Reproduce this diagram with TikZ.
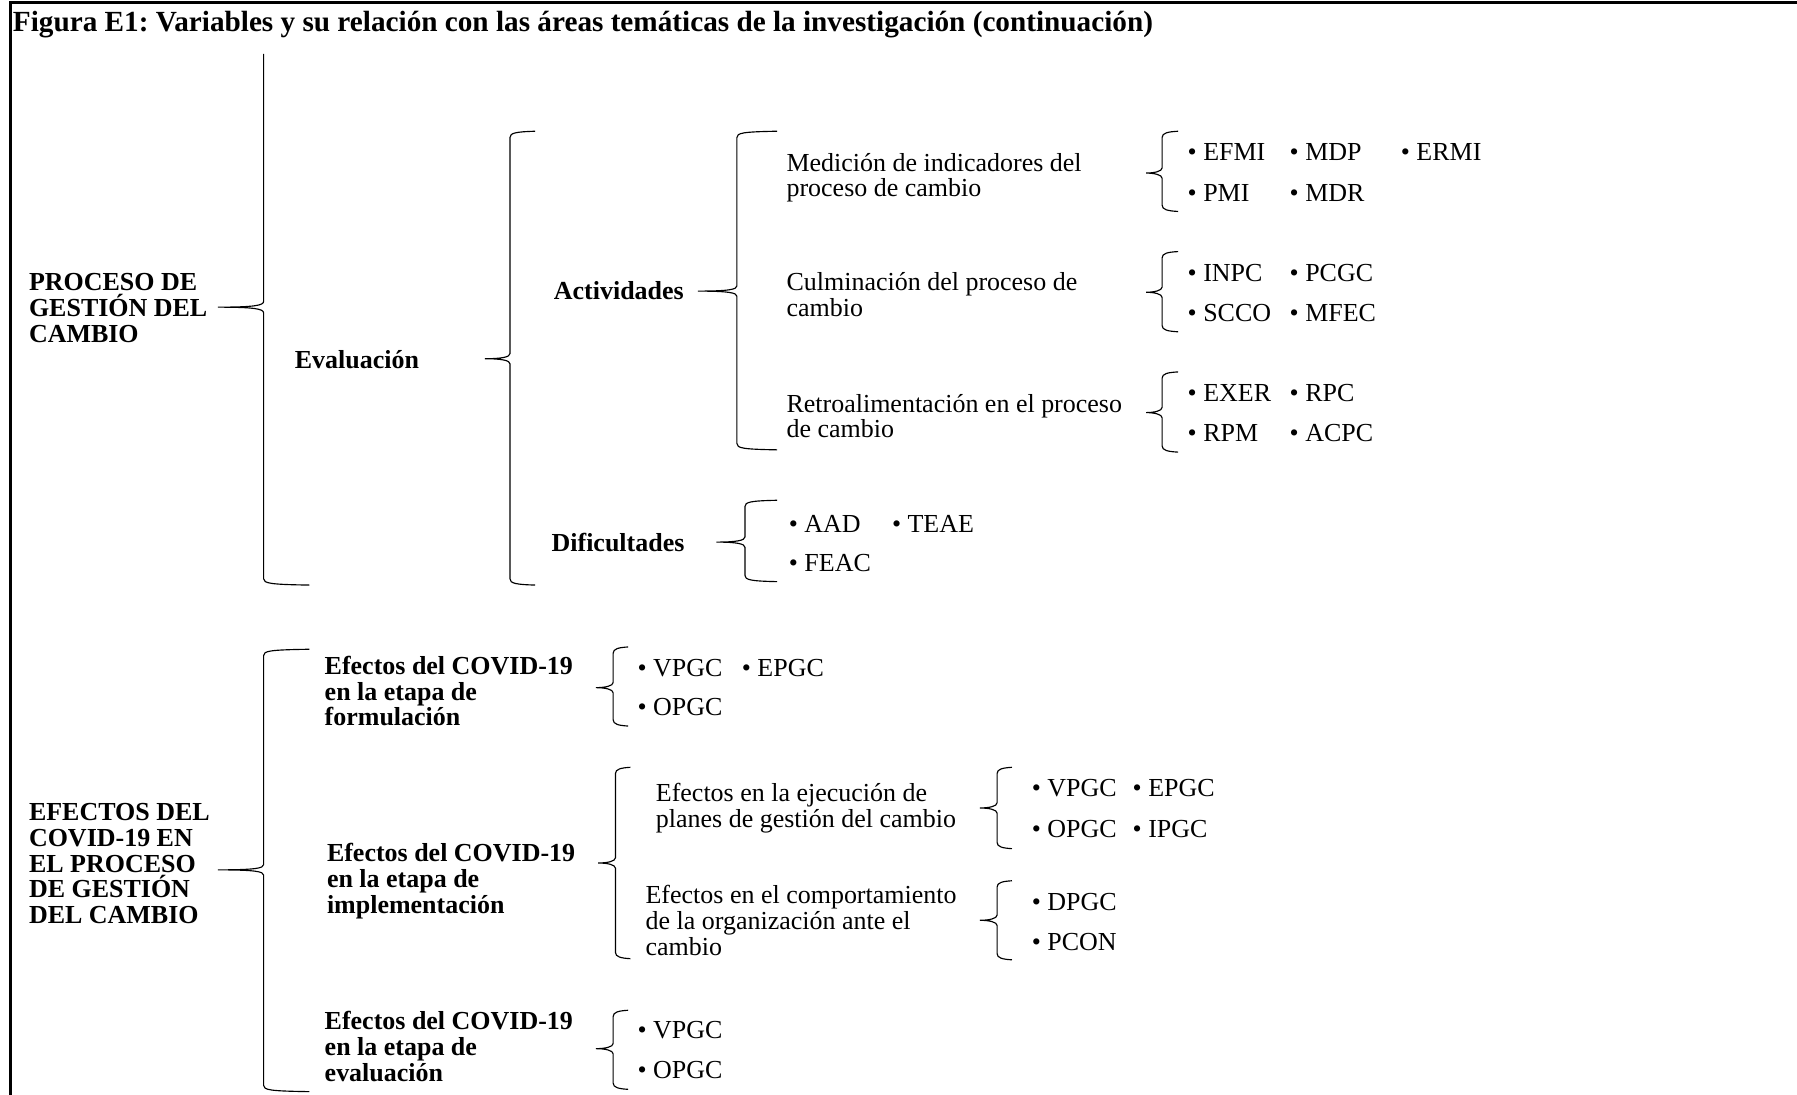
\documentclass[tikz,border=0pt]{standalone}
\usepackage{fontspec}
\setmainfont{Liberation Serif}
\frenchspacing
\usetikzlibrary{positioning}

\begin{document}
\begin{tikzpicture}[
      x=0.6pt, y=-0.6pt,
      title/.style={anchor=base west, inner sep=0pt, font=\fontsize{15.3}{16}\selectfont\bfseries},
      head/.style={anchor=west, inner sep=0pt, align=left, font=\fontsize{13.6}{13.5}\selectfont\bfseries},
      txt/.style={anchor=west, inner sep=0pt, align=left, font=\fontsize{13.6}{13.5}\selectfont},
      itm/.style={anchor=west, inner sep=0pt, font=\fontsize{13.6}{13.5}\selectfont},
      brace/.style={line width=0.6pt},
      frame/.style={line width=1.5pt}
   ]
      \useasboundingbox (0,0) rectangle (1568,955);
      \draw[frame] (9.5,955) -- (9.5,2.5) -- (1568,2.5);
      \node[title] (T) at (11,27.5) {Figura E1: Variables y su relación con las áreas temáticas de la investigación (continuación)};

      % first block
      \node[head] (P1) at (25,269) {PROCESO DE\\GESTIÓN DEL\\CAMBIO};
      \node[head] (EV) at (257,314) {Evaluación};
      \node[head] (AC) at (483,254) {Actividades};
      \node[head] (DI) at (481,473) {Dificultades};
      \node[txt] (M1) at (686,155) {Medición de indicadores del\\proceso de cambio};
      \node[txt] (M2) at (686,257) {Culminación del proceso de\\cambio};
      \node[txt] (M3) at (686,363) {Retroalimentación en el proceso\\de cambio};

      \node[itm] (efmi) at (1036,133) {\textbullet\ EFMI};
      \node[itm] (mdp)  at (1125,133) {\textbullet\ MDP};
      \node[itm] (ermi) at (1222,133) {\textbullet\ ERMI};
      \node[itm] (pmi)  at (1036,168) {\textbullet\ PMI};
      \node[itm] (mdr)  at (1125,168) {\textbullet\ MDR};
      \node[itm] (inpc) at (1036,238) {\textbullet\ INPC};
      \node[itm] (pcgc) at (1125,238) {\textbullet\ PCGC};
      \node[itm] (scco) at (1036,273) {\textbullet\ SCCO};
      \node[itm] (mfec) at (1125,273) {\textbullet\ MFEC};
      \node[itm] (exer) at (1036,343) {\textbullet\ EXER};
      \node[itm] (rpc)  at (1125,343) {\textbullet\ RPC};
      \node[itm] (rpm)  at (1036,378) {\textbullet\ RPM};
      \node[itm] (acpc) at (1125,378) {\textbullet\ ACPC};
      \node[itm] (aad)  at (688,457) {\textbullet\ AAD};
      \node[itm] (teae) at (778,457) {\textbullet\ TEAE};
      \node[itm] (feac) at (688,491) {\textbullet\ FEAC};

      % second block
      \node[head] (P2) at (25,753.5) {EFECTOS DEL\\COVID-19 EN\\EL PROCESO\\DE GESTIÓN\\DEL CAMBIO};
      \node[head] (F1) at (283,603) {Efectos del COVID-19\\en la etapa de\\formulación};
      \node[head] (F2) at (285,769) {Efectos del COVID-19\\en la etapa de\\implementación};
      \node[head] (F3) at (283,913) {Efectos del COVID-19\\en la etapa de\\evaluación};
      \node[txt] (E1) at (572,705) {Efectos en la ejecución de\\planes de gestión del cambio};
      \node[txt] (E2) at (563,803) {Efectos en el comportamiento\\de la organización ante el\\cambio};

      \node[itm] (fvpgc) at (556,583) {\textbullet\ VPGC};
      \node[itm] (fepgc) at (647,583) {\textbullet\ EPGC};
      \node[itm] (fopgc) at (556,617) {\textbullet\ OPGC};
      \node[itm] (evpgc) at (900,688) {\textbullet\ VPGC};
      \node[itm] (eepgc) at (988,688) {\textbullet\ EPGC};
      \node[itm] (eopgc) at (900,723) {\textbullet\ OPGC};
      \node[itm] (eipgc) at (988,723) {\textbullet\ IPGC};
      \node[itm] (dpgc)  at (900,787) {\textbullet\ DPGC};
      \node[itm] (pcon)  at (900,822) {\textbullet\ PCON};
      \node[itm] (vvpgc) at (556,899) {\textbullet\ VPGC};
      \node[itm] (vopgc) at (556,934) {\textbullet\ OPGC};

      % braces: x / top / middle / bottom / tip / hook end
      \draw[brace] (230,47) -- (230,263) .. controls (230,266.5) and (222,268) .. (190,268)
         .. controls (222,268) and (230,269.5) .. (230,273) -- (230,505)
         .. controls (230,509) and (236,510) .. (270,510.5);
      \foreach \bx/\bt/\bm/\bb/\tx/\hx in {445/115/313/510/423/467, 643/115/254/392/609/678,
            650/437/473/507/625/678, 1014/115/151/184/1000/1028, 1014/220/255/289/1000/1028,
            1014/325/360/394/1000/1028, 230/567/759/952/190/270, 535/565/600/633/520/548,
            537/670/753/836/522/550, 870/670/705/740/855/883, 870/769/803/837/855/883,
            535/882/915/950/520/548}
         \draw[brace] (\hx,\bt-0.5) .. controls (\bx+5,\bt) and (\bx,\bt+1) .. (\bx,\bt+5)
            -- (\bx,\bm-4.5) .. controls (\bx,\bm-1.5) and (\bx-7,\bm) .. (\tx,\bm)
            .. controls (\bx-7,\bm) and (\bx,\bm+1.5) .. (\bx,\bm+4.5)
            -- (\bx,\bb-5) .. controls (\bx,\bb-1) and (\bx+5,\bb) .. (\hx,\bb+0.5);
   \end{tikzpicture}
\end{document}
